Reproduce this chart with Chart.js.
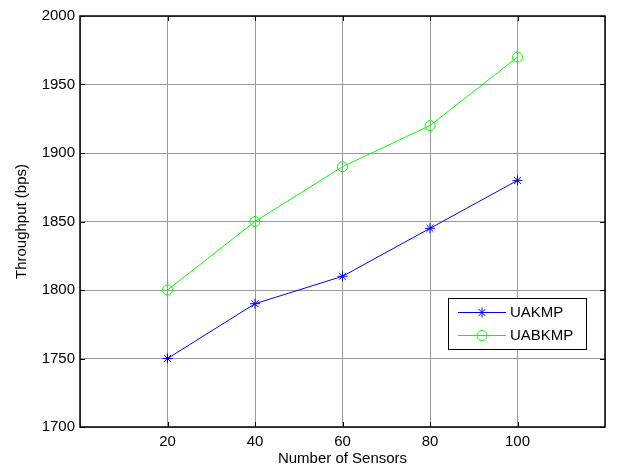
<!DOCTYPE html>
<html>
<head>
<meta charset="utf-8">
<script src="https://cdn.jsdelivr.net/npm/chart.js@4"></script>
<style>
  html, body { margin: 0; padding: 0; background: #fff; }
  #wrap { width: 620px; height: 468px; }
</style>
</head>
<body>
<div id="wrap"><canvas id="myChart" width="620" height="468"></canvas></div>
<script>
const sensors = [20, 40, 60, 80, 100];
const uakmp = [1750, 1790, 1810, 1845, 1880];
const uabkmp = [1800, 1850, 1890, 1920, 1970];
const xTicks = [20, 40, 60, 80, 100];
const yTicks = [1700, 1750, 1800, 1850, 1900, 1950, 2000];

const FONT = 'Liberation Sans, Arial, sans-serif';

// inward tick marks on all four sides, matlab style
const innerTicks = {
  id: 'innerTicks',
  afterDraw(chart) {
    const { ctx, chartArea: a, scales } = chart;
    ctx.save();
    ctx.strokeStyle = '#000';
    ctx.lineWidth = 1;
    ctx.beginPath();
    xTicks.forEach(v => {
      const x = Math.round(scales.x.getPixelForValue(v)) + 0.5;
      ctx.moveTo(x, a.bottom); ctx.lineTo(x, a.bottom - 5);
      ctx.moveTo(x, a.top); ctx.lineTo(x, a.top + 5);
    });
    yTicks.forEach(v => {
      const y = Math.round(scales.y.getPixelForValue(v)) + 0.5;
      ctx.moveTo(a.left, y); ctx.lineTo(a.left + 5, y);
      ctx.moveTo(a.right, y); ctx.lineTo(a.right - 5, y);
    });
    ctx.stroke();
    ctx.lineWidth = 1.5;
    ctx.strokeRect(a.left, a.top, a.right - a.left, a.bottom - a.top);
    ctx.restore();
  }
};

// legend box at lower right
const boxLegend = {
  id: 'boxLegend',
  afterDraw(chart) {
    const { ctx } = chart;
    const bx = 448, by = 298, bw = 138, bh = 51;
    ctx.save();
    ctx.fillStyle = '#fff';
    ctx.fillRect(bx, by, bw, bh);
    ctx.strokeStyle = '#000';
    ctx.lineWidth = 1;
    ctx.strokeRect(bx + 0.5, by + 0.5, bw, bh);
    const rows = [
      { label: 'UAKMP', color: '#0000ff', style: 'star', y: by + 14 },
      { label: 'UABKMP', color: '#00ff00', style: 'circle', y: by + 37 }
    ];
    rows.forEach(r => {
      ctx.strokeStyle = r.color;
      ctx.fillStyle = 'rgba(0,0,0,0)';
      ctx.lineWidth = 1;
      ctx.beginPath();
      ctx.moveTo(bx + 10, r.y + 0.5);
      ctx.lineTo(bx + 58, r.y + 0.5);
      ctx.stroke();
      Chart.helpers.drawPoint(ctx, { pointStyle: r.style, radius: 5, borderWidth: 1 }, bx + 34, r.y + 0.5);
      ctx.fillStyle = '#000';
      ctx.font = '15px ' + FONT;
      ctx.textBaseline = 'middle';
      ctx.fillText(r.label, bx + 62, r.y + 1);
    });
    ctx.restore();
  }
};

const ctx = document.getElementById('myChart').getContext('2d');
new Chart(ctx, {
  type: 'line',
  data: {
    datasets: [{
      label: 'UAKMP',
      data: sensors.map((s, i) => ({ x: s, y: uakmp[i] })),
      borderColor: '#0000ff',
      backgroundColor: '#0000ff',
      borderWidth: 1,
      pointStyle: 'star',
      pointRadius: 5,
      pointBorderWidth: 1
    }, {
      label: 'UABKMP',
      data: sensors.map((s, i) => ({ x: s, y: uabkmp[i] })),
      borderColor: '#00ff00',
      backgroundColor: 'transparent',
      borderWidth: 1,
      pointStyle: 'circle',
      pointRadius: 5,
      pointBorderWidth: 1
    }]
  },
  options: {
    responsive: false,
    animation: false,
    layout: { padding: { top: 16, right: 15, left: 0, bottom: 0 } },
    plugins: { legend: { display: false }, tooltip: { enabled: false } },
    scales: {
      x: {
        type: 'linear', min: 0, max: 120,
        afterBuildTicks: s => { s.ticks = [0, ...xTicks, 120].map(v => ({ value: v })); },
        afterFit: s => { s.height = 41; },
        grid: { color: '#9a9a9a', lineWidth: 1, drawTicks: false },
        border: { display: false },
        ticks: {
          padding: 6, color: '#000', font: { family: FONT, size: 15 },
          callback: v => xTicks.includes(v) ? String(v) : ''
        },
        title: { display: true, text: 'Number of Sensors', color: '#000', font: { family: FONT, size: 15 }, padding: { top: 0, bottom: 0 } }
      },
      y: {
        type: 'linear', min: 1700, max: 2000,
        afterBuildTicks: s => { s.ticks = yTicks.map(v => ({ value: v })); },
        afterFit: s => { s.width = 80; },
        grid: { color: '#9a9a9a', lineWidth: 1, drawTicks: false },
        border: { display: false },
        ticks: { padding: 5, color: '#000', font: { family: FONT, size: 15 }, callback: v => String(v) },
        title: { display: true, text: 'Throughput (bps)', color: '#000', font: { family: FONT, size: 15 }, padding: { top: 13, bottom: 0 } }
      }
    }
  },
  plugins: [innerTicks, boxLegend]
});
</script>
</body>
</html>
